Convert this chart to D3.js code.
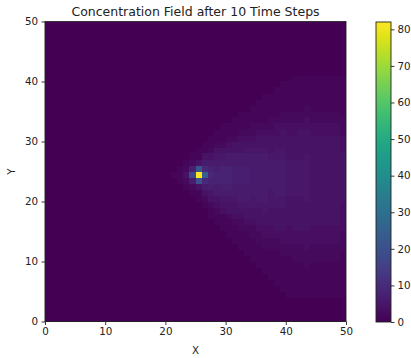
<!DOCTYPE html>
<html>
<head>
<meta charset="utf-8">
<script src="https://cdn.jsdelivr.net/npm/d3@7"></script>
<style>
  html, body { margin: 0; padding: 0; background: #fff; }
  svg { display: block; }
  text { font-family: "DejaVu Sans", sans-serif; }
</style>
</head>
<body>
<svg id="chart" width="411" height="358"></svg>
<script>
// ---- data ----
const title = "Concentration Field after 10 Time Steps";
const xLabel = "X";
const yLabel = "Y";
const gridSize = 50;
const axisTicks = [0, 10, 20, 30, 40, 50];
const colorTicks = [0, 10, 20, 30, 40, 50, 60, 70, 80];
const vMax = 82;
// non-zero window of the field: columns x = 21..49, rows y = 40 down to 4
const windowX0 = 21;
const windowYTop = 40;
const fieldRows = [
/*40*/[0,0,0,0,0,0,0,0,0,0,0,0,0,0,0,0,0,0,0,0,1,1,1,1,1,1,1,1,1],
/*39*/[0,0,0,0,0,0,0,0,0,0,0,0,0,0,0,0,0,0,1,1,1,1,1,1,1,1,1,1,1],
/*38*/[0,0,0,0,0,0,0,0,0,0,0,0,0,0,0,0,0,1,1,1,1,1,1,1,1,1,1,1,1],
/*37*/[0,0,0,0,0,0,0,0,0,0,0,0,0,0,0,1,1,1,1,1,1,1,1,1,1,1,1,1,1],
/*36*/[0,0,0,0,0,0,0,0,0,0,0,0,0,0,1,1,1,1,1,1,1,1,1,1,1,1,1,1,1],
/*35*/[0,0,0,0,0,0,0,0,0,0,0,0,0,1,1,1,1,1,1,1,1,1,2,1,1,1,1,1,1],
/*34*/[0,0,0,0,0,0,0,0,0,0,0,1,1,1,1,1,1,1,2,2,2,2,2,2,2,2,2,2,1],
/*33*/[0,0,0,0,0,0,0,0,0,0,1,1,1,1,1,1,2,2,2,2,2,2,3,2,2,2,2,2,2],
/*32*/[0,0,0,0,0,0,0,0,1,1,1,1,1,2,2,2,2,3,3,3,3,3,3,3,3,3,3,3,2],
/*31*/[0,0,0,0,0,0,0,1,1,1,1,2,2,2,3,3,3,3,4,3,3,4,4,3,3,3,3,3,2],
/*30*/[0,0,0,0,0,0,1,1,1,2,2,3,3,3,4,4,4,4,4,4,4,4,4,4,4,4,4,4,3],
/*29*/[0,0,0,0,0,1,1,2,2,3,4,4,4,4,4,4,4,4,4,4,4,4,4,4,4,4,4,4,3],
/*28*/[0,0,0,0,1,1,2,4,4,4,4,4,5,5,5,5,4,5,5,4,4,4,4,4,4,4,4,4,3],
/*27*/[0,0,0,1,1,4,4,5,5,6,6,6,6,6,6,6,5,5,5,4,4,4,5,4,4,4,4,4,4],
/*26*/[0,0,1,2,4,6,6,6,6,6,6,6,6,6,6,6,6,6,6,5,5,5,5,4,4,4,4,4,4],
/*25*/[0,1,2,7,22,9,8,7,8,8,7,7,7,6,6,6,6,6,6,5,5,5,5,4,4,4,4,4,4],
/*24*/[1,1,4,18,82,24,9,8,8,8,7,7,7,6,6,6,6,6,6,5,5,5,5,4,4,4,4,4,4],
/*23*/[0,1,2,6,20,9,8,8,8,8,7,7,7,6,6,6,6,6,6,5,5,5,5,4,4,4,4,4,4],
/*22*/[0,0,1,2,4,6,7,6,7,7,6,6,6,6,6,6,6,6,6,5,5,5,5,4,4,4,4,4,4],
/*21*/[0,0,0,1,1,4,5,6,6,6,6,6,6,6,6,6,5,6,6,5,5,5,5,4,4,4,4,4,4],
/*20*/[0,0,0,0,1,2,4,4,5,5,5,6,6,5,6,6,5,5,5,4,4,4,5,4,4,4,4,4,4],
/*19*/[0,0,0,0,0,1,2,3,4,4,4,5,5,5,5,5,5,5,5,4,4,4,4,4,4,4,4,4,3],
/*18*/[0,0,0,0,0,0,1,2,3,4,4,4,4,4,4,5,4,4,4,4,4,4,4,4,4,4,4,4,3],
/*17*/[0,0,0,0,0,0,1,1,1,2,3,3,4,4,4,4,4,4,4,4,4,4,4,4,4,4,4,4,3],
/*16*/[0,0,0,0,0,0,0,1,1,1,2,2,3,3,4,4,4,4,4,4,4,4,4,4,4,4,4,4,3],
/*15*/[0,0,0,0,0,0,0,0,1,1,1,2,2,2,3,3,3,4,4,3,4,4,4,3,3,3,3,3,3],
/*14*/[0,0,0,0,0,0,0,0,0,1,1,1,1,2,2,3,3,3,3,3,3,3,3,3,3,3,3,3,2],
/*13*/[0,0,0,0,0,0,0,0,0,0,1,1,1,1,2,2,2,2,3,3,3,3,3,3,3,3,3,3,2],
/*12*/[0,0,0,0,0,0,0,0,0,0,0,1,1,1,1,2,2,2,2,2,2,2,3,2,2,2,2,2,2],
/*11*/[0,0,0,0,0,0,0,0,0,0,0,0,1,1,1,1,1,1,2,2,2,2,2,2,2,2,2,2,1],
/*10*/[0,0,0,0,0,0,0,0,0,0,0,0,0,1,1,1,1,1,1,1,2,2,2,2,2,2,2,2,1],
/* 9*/[0,0,0,0,0,0,0,0,0,0,0,0,0,0,1,1,1,1,1,1,1,1,2,1,1,1,1,1,1],
/* 8*/[0,0,0,0,0,0,0,0,0,0,0,0,0,0,0,1,1,1,1,1,1,1,1,1,1,1,1,1,1],
/* 7*/[0,0,0,0,0,0,0,0,0,0,0,0,0,0,0,0,1,1,1,1,1,1,1,1,1,1,1,1,1],
/* 6*/[0,0,0,0,0,0,0,0,0,0,0,0,0,0,0,0,0,1,1,1,1,1,1,1,1,1,1,1,1],
/* 5*/[0,0,0,0,0,0,0,0,0,0,0,0,0,0,0,0,0,0,1,1,1,1,1,1,1,1,1,1,1],
/* 4*/[0,0,0,0,0,0,0,0,0,0,0,0,0,0,0,0,0,0,0,1,1,1,1,1,1,1,1,1,1]
];

// ---- build full grid ----
const cells = [];
for (let gy = 0; gy < gridSize; gy++) {
  for (let gx = 0; gx < gridSize; gx++) {
    let v = 0;
    const r = windowYTop - gy;
    const c = gx - windowX0;
    if (r >= 0 && r < fieldRows.length && c >= 0 && c < fieldRows[r].length) v = fieldRows[r][c];
    cells.push({ gx, gy, v });
  }
}

const svg = d3.select("#chart");
const plot = { left: 45, right: 346, top: 21.5, bottom: 321.5 };
const x = d3.scaleLinear().domain([0, gridSize]).range([plot.left, plot.right]);
const y = d3.scaleLinear().domain([0, gridSize]).range([plot.bottom, plot.top]);
const color = d3.scaleSequential(d3.interpolateViridis).domain([0, vMax]);
const px = v => Math.round(v);

// cells (snapped to whole pixels so no seams)
svg.append("g").attr("shape-rendering", "crispEdges")
  .selectAll("rect").data(cells).join("rect")
  .attr("x", d => px(x(d.gx)))
  .attr("y", d => px(y(d.gy + 1)))
  .attr("width", d => px(x(d.gx + 1)) - px(x(d.gx)))
  .attr("height", d => px(y(d.gy)) - px(y(d.gy + 1)))
  .attr("fill", d => color(d.v));

// frame
svg.append("rect")
  .attr("x", plot.left).attr("y", plot.top)
  .attr("width", plot.right - plot.left).attr("height", plot.bottom - plot.top)
  .attr("fill", "none").attr("stroke", "#222").attr("stroke-width", 0.9);

const styleAxis = g => {
  g.select(".domain").remove();
  g.selectAll(".tick line").attr("stroke", "#222").attr("stroke-width", 0.9);
  g.selectAll(".tick text").attr("fill", "#222").style("font-size", "10.3px").style("font-family", "DejaVu Sans, sans-serif");
};

svg.append("g").attr("transform", `translate(0,${plot.bottom})`)
  .call(d3.axisBottom(x).tickValues(axisTicks).tickSize(3.5).tickPadding(3))
  .call(styleAxis);
svg.append("g").attr("transform", `translate(${plot.left},0)`)
  .call(d3.axisLeft(y).tickValues(axisTicks).tickSize(3.5).tickPadding(3.5))
  .call(styleAxis);

// title and labels
svg.append("text").attr("x", (plot.left + plot.right) / 2).attr("y", 15.5)
  .attr("text-anchor", "middle").style("font-size", "12.5px").attr("fill", "#222").text(title);
svg.append("text").attr("x", (plot.left + plot.right) / 2).attr("y", 353.5)
  .attr("text-anchor", "middle").style("font-size", "10.3px").attr("fill", "#222").text(xLabel);
svg.append("text").attr("transform", `translate(14.5,${(plot.top + plot.bottom) / 2}) rotate(-90)`)
  .attr("text-anchor", "middle").style("font-size", "10.3px").attr("fill", "#222").text(yLabel);

// colorbar
const cb = { left: 376, right: 391, top: 22, bottom: 322 };
const cy = d3.scaleLinear().domain([0, vMax]).range([cb.bottom, cb.top]);
const defs = svg.append("defs");
const grad = defs.append("linearGradient").attr("id", "cbgrad")
  .attr("x1", 0).attr("y1", 1).attr("x2", 0).attr("y2", 0);
grad.selectAll("stop").data(d3.range(0, 1.0001, 0.05)).join("stop")
  .attr("offset", d => d)
  .attr("stop-color", d => color(d * vMax));
svg.append("rect").attr("x", cb.left).attr("y", cb.top)
  .attr("width", cb.right - cb.left).attr("height", cb.bottom - cb.top)
  .attr("fill", "url(#cbgrad)").attr("stroke", "#222").attr("stroke-width", 0.9);
svg.append("g").attr("transform", `translate(${cb.right},0)`)
  .call(d3.axisRight(cy).tickValues(colorTicks).tickSize(3.5).tickPadding(3))
  .call(styleAxis);
</script>
</body>
</html>
